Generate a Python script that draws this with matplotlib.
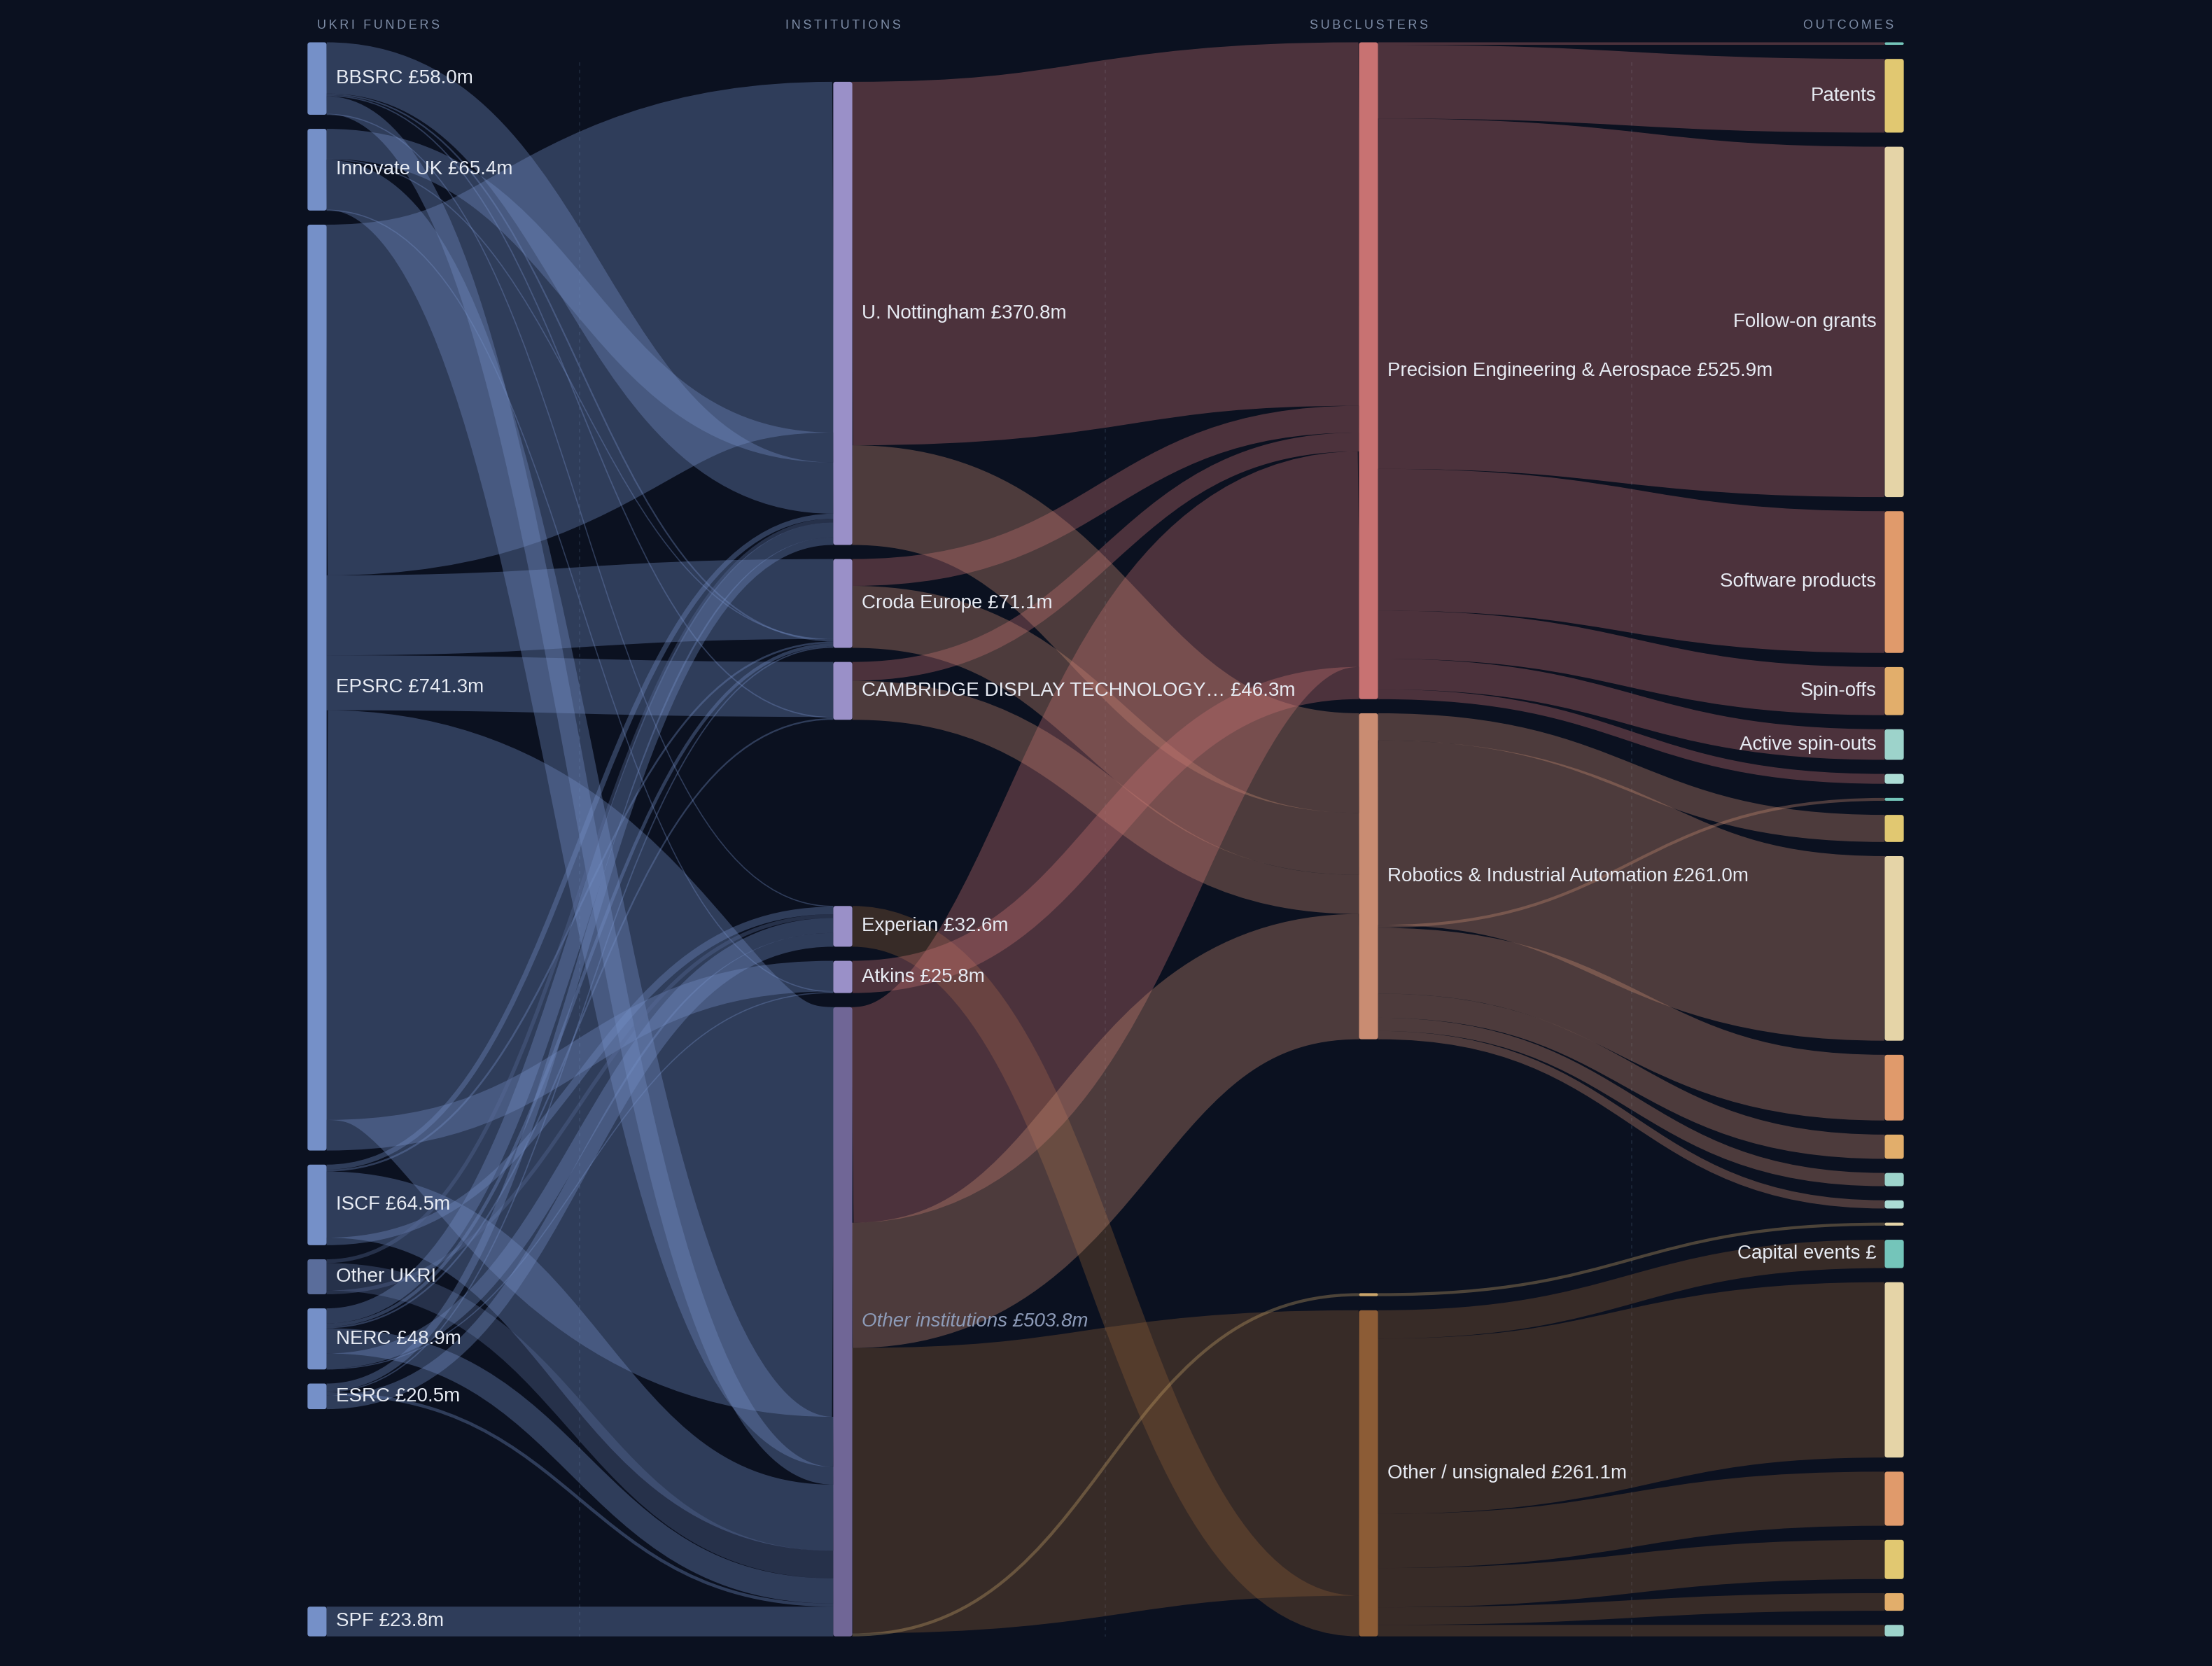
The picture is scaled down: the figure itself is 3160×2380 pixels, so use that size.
import matplotlib
matplotlib.use("Agg")
import matplotlib.pyplot as plt
from matplotlib.path import Path
from matplotlib.patches import PathPatch, FancyBboxPatch

plt.rcParams["font.family"] = ["Liberation Sans", "DejaVu Sans"]

# ---------------- data ----------------
funders = ["BBSRC", "Innovate UK", "EPSRC", "ISCF", "Other UKRI", "NERC", "ESRC", "SPF"]
funder_labels = ["BBSRC £58.0m", "Innovate UK £65.4m", "EPSRC £741.3m", "ISCF £64.5m",
                 "Other UKRI", "NERC £48.9m", "ESRC £20.5m", "SPF £23.8m"]

institutions = ["U. Nottingham", "Croda Europe", "CAMBRIDGE DISPLAY TECHNOLOGY",
                "Experian", "Atkins", "Other institutions"]
institution_labels = ["U. Nottingham £370.8m", "Croda Europe £71.1m",
                      "CAMBRIDGE DISPLAY TECHNOLOGY\u2026 £46.3m", "Experian £32.6m",
                      "Atkins £25.8m", "Other institutions £503.8m"]

subclusters = ["Precision Engineering & Aerospace", "Robotics & Industrial Automation",
               "Minor", "Other / unsignaled"]
subcluster_labels = ["Precision Engineering & Aerospace £525.9m",
                     "Robotics & Industrial Automation £261.0m", "",
                     "Other / unsignaled £261.1m"]

# funder -> institution (£m)
funding_links = [
    ("BBSRC", "U. Nottingham", 41.0), ("BBSRC", "Croda Europe", 1.2),
    ("BBSRC", "CAMBRIDGE DISPLAY TECHNOLOGY", 1.0), ("BBSRC", "Experian", 0.6),
    ("BBSRC", "Other institutions", 14.2),
    ("Innovate UK", "U. Nottingham", 24.0), ("Innovate UK", "Croda Europe", 0.8),
    ("Innovate UK", "Atkins", 0.5), ("Innovate UK", "Other institutions", 40.1),
    ("EPSRC", "U. Nottingham", 280.8), ("EPSRC", "Croda Europe", 64.0),
    ("EPSRC", "CAMBRIDGE DISPLAY TECHNOLOGY", 44.0), ("EPSRC", "Atkins", 24.5),
    ("EPSRC", "Other institutions", 328.0),
    ("ISCF", "U. Nottingham", 4.0), ("ISCF", "Croda Europe", 1.5),
    ("ISCF", "Experian", 6.0), ("ISCF", "Other institutions", 53.0),
    ("Other UKRI", "U. Nottingham", 3.0), ("Other UKRI", "Experian", 3.0),
    ("Other UKRI", "Other institutions", 22.0),
    ("NERC", "U. Nottingham", 12.0), ("NERC", "Croda Europe", 2.6),
    ("NERC", "CAMBRIDGE DISPLAY TECHNOLOGY", 1.3), ("NERC", "Experian", 12.0),
    ("NERC", "Atkins", 0.8), ("NERC", "Other institutions", 20.2),
    ("ESRC", "U. Nottingham", 6.0), ("ESRC", "Croda Europe", 1.0),
    ("ESRC", "Experian", 11.0), ("ESRC", "Other institutions", 2.5),
    ("SPF", "Other institutions", 23.8),
]

# institution -> subcluster (£m)
cluster_links = [
    ("U. Nottingham", "Precision Engineering & Aerospace", 291.0),
    ("U. Nottingham", "Robotics & Industrial Automation", 79.8),
    ("Croda Europe", "Precision Engineering & Aerospace", 21.5),
    ("Croda Europe", "Robotics & Industrial Automation", 49.6),
    ("CAMBRIDGE DISPLAY TECHNOLOGY", "Precision Engineering & Aerospace", 15.0),
    ("CAMBRIDGE DISPLAY TECHNOLOGY", "Robotics & Industrial Automation", 31.3),
    ("Experian", "Other / unsignaled", 32.6),
    ("Atkins", "Precision Engineering & Aerospace", 25.8),
    ("Other institutions", "Precision Engineering & Aerospace", 172.6),
    ("Other institutions", "Robotics & Industrial Automation", 100.3),
    ("Other institutions", "Other / unsignaled", 228.5),
    ("Other institutions", "Minor", 2.4),
]

# subcluster -> outcomes (£m), listed top to bottom
precision_out_types = ["Capital events", "Patents", "Follow-on grants", "Software products",
                       "Spin-offs", "Active spin-outs", "Other outcomes"]
precision_out_values = [2.0, 59.0, 280.5, 113.5, 38.5, 24.5, 7.9]
precision_out_labels = ["", "Patents", "Follow-on grants", "Software products",
                        "Spin-offs", "Active spin-outs", ""]

robotics_out_types = ["Capital events", "Patents", "Follow-on grants", "Software products",
                      "Spin-offs", "Active spin-outs", "Other outcomes"]
robotics_out_values = [2.3, 21.7, 147.8, 52.6, 19.4, 10.6, 6.6]

minor_out_types = ["Follow-on grants"]
minor_out_values = [2.4]

other_out_types = ["Capital events", "Follow-on grants", "Software products", "Patents",
                   "Spin-offs", "Active spin-outs"]
other_out_values = [22.7, 140.4, 43.3, 31.4, 14.1, 9.2]
other_out_labels = ["Capital events £", "", "", "", "", ""]

# ---------------- style / layout ----------------
BG = "#0b1120"
W, H = 1568, 1181
X_LEFT, X_RIGHT = 218, 1349.5
Y_TOP, Y_BOT = 30, 1160
NODE_W = 13.5
PAD = 10
PT = 11.9 * 72 / H          # points per layout unit
LINK_ALPHA = 0.35

funder_color = "#7590c8"
outcome_colors = {"Capital events": "#74c5ba", "Patents": "#e1c871",
                  "Follow-on grants": "#e5d4a7", "Software products": "#e09a6b",
                  "Spin-offs": "#e2ae6b", "Active spin-outs": "#9dd3cb",
                  "Other outcomes": "#acdcd5"}
sub_colors = {"Precision Engineering & Aerospace": "#c87272",
              "Robotics & Industrial Automation": "#c98c72",
              "Minor": "#c9a46a", "Other / unsignaled": "#8c5c36"}
inst_color = "#9a90c8"

bottom_anchored = {"SPF", "Experian", "Atkins", "Other institutions", "Minor", "Other / unsignaled"}
top_offset = {"U. Nottingham": 28}

# order used when stacking links on a node
funder_rank = ["EPSRC", "Innovate UK", "BBSRC", "ISCF", "Other UKRI", "NERC", "ESRC", "SPF"]
inst_rank = ["U. Nottingham", "Croda Europe", "CAMBRIDGE DISPLAY TECHNOLOGY",
             "Other institutions", "Experian", "Atkins"]
sub_rank = ["Precision Engineering & Aerospace", "Robotics & Industrial Automation",
            "Other / unsignaled", "Minor"]

# ---------------- build graph ----------------
nodes = {}
columns = [[], [], [], []]


def add_node(nid, col, color, label, rank, italic=False):
    nodes[nid] = dict(col=col, color=color, label=label, rank=rank, italic=italic,
                      inp=[], out=[])
    columns[col].append(nid)


for f, lab in zip(funders, funder_labels):
    add_node(f, 0, "#5a6d9b" if f == "Other UKRI" else funder_color, lab, funder_rank.index(f))
for i, lab in zip(institutions, institution_labels):
    add_node(i, 1, "#706696" if i == "Other institutions" else inst_color, lab,
             inst_rank.index(i), italic=(i == "Other institutions"))
for s, lab in zip(subclusters, subcluster_labels):
    add_node(s, 2, sub_colors[s], lab, sub_rank.index(s))

links = []
for s, t, v in funding_links + cluster_links:
    links.append(dict(s=s, t=t, v=v))

out_groups = [
    ("Precision Engineering & Aerospace", precision_out_types, precision_out_values, precision_out_labels),
    ("Robotics & Industrial Automation", robotics_out_types, robotics_out_values, [""] * 7),
    ("Minor", minor_out_types, minor_out_values, [""]),
    ("Other / unsignaled", other_out_types, other_out_values, other_out_labels),
]
k = 0
for sub, types, vals, labs in out_groups:
    for typ, v, lab in zip(types, vals, labs):
        nid = (sub, typ)
        add_node(nid, 3, outcome_colors[typ], lab, k)
        links.append(dict(s=sub, t=nid, v=v))
        k += 1
# the robotics capital-events flow leaves between follow-on grants and software
nodes[("Robotics & Industrial Automation", "Capital events")]["rank"] = \
    nodes[("Robotics & Industrial Automation", "Follow-on grants")]["rank"] + 0.5

for ln in links:
    nodes[ln["s"]]["out"].append(ln)
    nodes[ln["t"]]["inp"].append(ln)
for n in nodes.values():
    n["value"] = max(sum(l["v"] for l in n["inp"]), sum(l["v"] for l in n["out"]))

# ---------------- layout ----------------
ky = min((Y_BOT - Y_TOP - (len(c) - 1) * PAD) / sum(nodes[n]["value"] for n in c) for c in columns)
step = (X_RIGHT - X_LEFT - NODE_W) / 3
for ci, col in enumerate(columns):
    x0 = X_LEFT + ci * step
    top = [n for n in col if n not in bottom_anchored]
    bot = [n for n in col if n in bottom_anchored]
    y = Y_TOP
    for n in top:
        y += top_offset.get(n, 0)
        nd = nodes[n]
        nd["y0"], nd["y1"] = y, y + nd["value"] * ky
        y = nd["y1"] + PAD
    y = Y_BOT
    for n in reversed(bot):
        nd = nodes[n]
        nd["y0"], nd["y1"] = y - nd["value"] * ky, y
        y = nd["y0"] - PAD
    for n in col:
        nodes[n]["x0"], nodes[n]["x1"] = x0, x0 + NODE_W

for nd in nodes.values():
    y = nd["y0"]
    for ln in sorted(nd["out"], key=lambda l: nodes[l["t"]]["rank"]):
        w = ln["v"] * ky
        ln["w"] = w
        ln["sy"] = y + w / 2
        y += w
    y = nd["y0"]
    for ln in sorted(nd["inp"], key=lambda l: nodes[l["s"]]["rank"]):
        w = ln["v"] * ky
        ln["ty"] = y + w / 2
        y += w

# ---------------- draw ----------------
fig = plt.figure(figsize=(15.8, 11.9), dpi=200, facecolor=BG)
ax = fig.add_axes([0, 0, 1, 1])
ax.set_facecolor(BG)
ax.set_xlim(0, W)
ax.set_ylim(H, 0)
ax.axis("off")

# faint dotted guides between columns
for ci in range(3):
    xm = (X_LEFT + ci * step + NODE_W + X_LEFT + (ci + 1) * step) / 2
    ax.plot([xm, xm], [44, Y_BOT], color="#1b2537", lw=0.7, ls=(0, (2.5, 3)), zorder=0)

for ln in links:
    s, t = nodes[ln["s"]], nodes[ln["t"]]
    if s["col"] == 1:
        color = t["color"]
    else:
        color = s["color"]
    x0, x1 = s["x1"], t["x0"]
    xm = (x0 + x1) / 2
    path = Path([(x0, ln["sy"]), (xm, ln["sy"]), (xm, ln["ty"]), (x1, ln["ty"])],
                [Path.MOVETO, Path.CURVE4, Path.CURVE4, Path.CURVE4])
    ax.add_patch(PathPatch(path, fill=False, edgecolor=color, alpha=LINK_ALPHA,
                           lw=max(ln["w"], 0.8) * PT, capstyle="butt", zorder=1))

for nid, nd in nodes.items():
    h = max(nd["y1"] - nd["y0"], 0.8)
    r = min(1.8, h / 2)
    ax.add_patch(FancyBboxPatch((nd["x0"], nd["y0"]), NODE_W, h,
                                boxstyle=f"round,pad=0,rounding_size={r}",
                                fc=nd["color"], ec="none", zorder=2))
    if nd["label"]:
        yc = (nd["y0"] + nd["y1"]) / 2
        if nd["col"] < 3:
            ax.text(nd["x1"] + 6.5, yc, nd["label"], ha="left", va="center", fontsize=10,
                    color="#8d9bb8" if nd["italic"] else "#e8ecf4",
                    style="italic" if nd["italic"] else "normal", zorder=3)
        else:
            ax.text(nd["x0"] - 6, yc, nd["label"], ha="right", va="center", fontsize=10,
                    color="#e8ecf4", zorder=3)

# column headers
headers = ["UKRI FUNDERS", "INSTITUTIONS", "SUBCLUSTERS", "OUTCOMES"]
for ci, head in enumerate(headers):
    txt = "\u2009".join(head)
    xc = X_LEFT + ci * step + NODE_W / 2
    if ci == 0:
        ax.text(X_LEFT + 7, 18, txt, ha="left", va="center", fontsize=6.5, color="#7f8ea8")
    elif ci == 3:
        ax.text(X_RIGHT - 7, 18, txt, ha="right", va="center", fontsize=6.5, color="#7f8ea8")
    else:
        ax.text(xc, 18, txt, ha="center", va="center", fontsize=6.5, color="#7f8ea8")

fig.savefig("out.png", dpi=200, facecolor=BG)
